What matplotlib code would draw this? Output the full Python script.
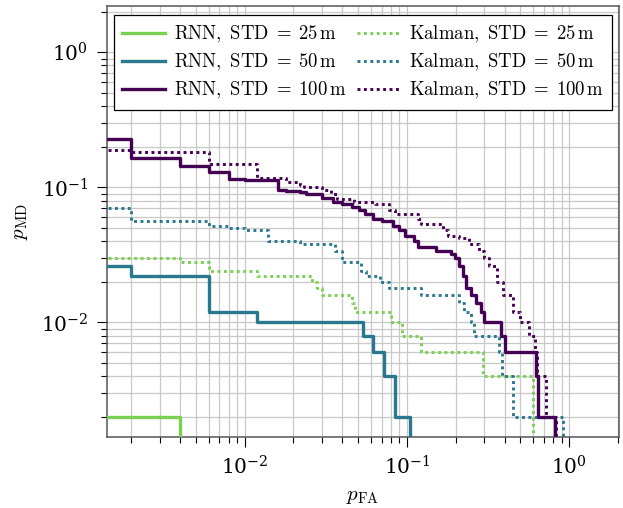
import matplotlib
matplotlib.use('Agg')
import matplotlib.pyplot as plt

plt.rcParams['mathtext.fontset'] = 'cm'
plt.rcParams['font.family'] = 'serif'

# step curves: p_FA where each step starts, p_MD held until the next step
rnn25_fa = [0, 0.004]
rnn25_md = [0.002, 0]

rnn50_fa = [0, 0.002, 0.006, 0.012, 0.054, 0.062, 0.072, 0.084, 0.104]
rnn50_md = [0.026, 0.022, 0.012, 0.010, 0.008, 0.006, 0.004, 0.002, 0]

rnn100_fa = [0, 0.002, 0.004, 0.006, 0.008, 0.010, 0.016, 0.018, 0.022, 0.024,
             0.030, 0.035, 0.040, 0.046, 0.051, 0.055, 0.062, 0.070, 0.082, 0.090,
             0.097, 0.111, 0.117, 0.152, 0.187, 0.197, 0.210, 0.222, 0.233, 0.250,
             0.268, 0.287, 0.300, 0.383, 0.400, 0.628, 0.640, 0.820]
rnn100_md = [0.228, 0.166, 0.144, 0.130, 0.116, 0.114, 0.096, 0.094, 0.092, 0.090,
             0.084, 0.078, 0.076, 0.072, 0.068, 0.064, 0.058, 0.056, 0.052, 0.048,
             0.044, 0.040, 0.036, 0.034, 0.032, 0.030, 0.026, 0.022, 0.018, 0.016,
             0.014, 0.012, 0.010, 0.008, 0.006, 0.004, 0.002, 0]

kal25_fa = [0, 0.004, 0.006, 0.012, 0.026, 0.028, 0.030, 0.046, 0.048, 0.080,
            0.094, 0.122, 0.294, 0.600]
kal25_md = [0.030, 0.028, 0.024, 0.022, 0.020, 0.018, 0.016, 0.014, 0.012, 0.010,
            0.008, 0.006, 0.004, 0]

kal50_fa = [0, 0.002, 0.006, 0.008, 0.010, 0.014, 0.022, 0.036, 0.040, 0.052,
            0.056, 0.068, 0.078, 0.122, 0.210, 0.226, 0.250, 0.260, 0.370, 0.384,
            0.450, 0.916]
kal50_md = [0.070, 0.056, 0.052, 0.050, 0.048, 0.040, 0.038, 0.034, 0.028, 0.024,
            0.022, 0.020, 0.018, 0.016, 0.014, 0.012, 0.010, 0.008, 0.006, 0.004,
            0.002, 0]

kal100_fa = [0, 0.002, 0.006, 0.012, 0.018, 0.022, 0.0234, 0.030, 0.034, 0.037,
             0.047, 0.064, 0.078, 0.084, 0.117, 0.123, 0.168, 0.179, 0.211, 0.243,
             0.280, 0.300, 0.320, 0.360, 0.390, 0.450, 0.500, 0.570, 0.620, 0.630,
             0.720, 0.835]
kal100_md = [0.190, 0.184, 0.150, 0.118, 0.110, 0.104, 0.100, 0.096, 0.090, 0.082,
             0.078, 0.076, 0.068, 0.064, 0.058, 0.054, 0.048, 0.044, 0.042, 0.038,
             0.034, 0.030, 0.026, 0.020, 0.016, 0.012, 0.010, 0.008, 0.006, 0.004,
             0.002, 0]

stds = [25, 50, 100]
colors = ['#7ad151', '#2a788e', '#440154']

fig = plt.figure(figsize=(6.23, 5.08), dpi=100)
ax = fig.add_axes([0.1717, 0.1398, 0.8219, 0.8482])
ax.set_xscale('log')
ax.set_yscale('log')

rnn = [(rnn25_fa, rnn25_md), (rnn50_fa, rnn50_md), (rnn100_fa, rnn100_md)]
kal = [(kal25_fa, kal25_md), (kal50_fa, kal50_md), (kal100_fa, kal100_md)]

for (fa, md), s, c in zip(rnn, stds, colors):
    ax.plot(fa, md, drawstyle='steps-post', color=c, lw=2.4, zorder=3,
            label=r'$\mathrm{RNN,\ STD}\;=\;%d\,\mathrm{m}$' % s)
for (fa, md), s, c in zip(kal, stds, colors):
    ax.plot(fa, md, drawstyle='steps-post', color=c, lw=2.1, zorder=2,
            linestyle=(0, (1, 1.2)),
            label=r'$\mathrm{Kalman,\ STD}\;=\;%d\,\mathrm{m}$' % s)

ax.set_xlim(1.42e-3, 2.03)
ax.set_ylim(1.42e-3, 2.2)
ax.grid(True, which='both', color='#c8c8c8', lw=0.9, zorder=0)
ax.set_axisbelow(True)
for sp in ax.spines.values():
    sp.set_color('#555555')
    sp.set_linewidth(1.1)
ax.tick_params(which='major', length=7.5, width=0.8, labelsize=14.5, pad=6)
ax.tick_params(which='minor', length=4.5, width=0.8)

ax.set_xlabel(r'$p_{\mathrm{FA}}$', fontsize=15, labelpad=6)
ax.set_ylabel(r'$p_{\mathrm{MD}}$', fontsize=15, labelpad=8)

leg = ax.legend(loc='upper center', ncol=2, fontsize=13.5, fancybox=False,
                framealpha=1, edgecolor='black', handlelength=2.3,
                handletextpad=0.45, columnspacing=0.6, labelspacing=0.38,
                borderaxespad=0.5, borderpad=0.45)
leg.get_frame().set_linewidth(0.9)

fig.savefig('out.png', dpi=100)
